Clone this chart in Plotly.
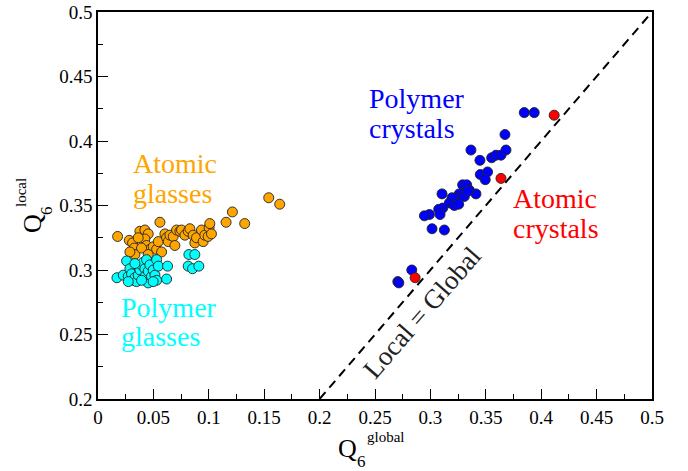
import plotly.graph_objects as go

# Atomic glasses (orange)
ag_x = [0.0177, 0.0282, 0.0312, 0.0327, 0.0333, 0.0378, 0.0423, 0.0453, 0.0423, 0.0438,
        0.0468, 0.0498, 0.0529, 0.0544, 0.0559, 0.0574, 0.0604, 0.0619, 0.0634, 0.0649,
        0.0679, 0.0694, 0.0709, 0.0739, 0.0754, 0.0784, 0.0814, 0.0829, 0.0859, 0.0874,
        0.0889, 0.0934, 0.0949, 0.0964, 0.0994, 0.1003, 0.1009, 0.1024, 0.1156, 0.1213,
        0.1324, 0.1541, 0.1640, 0.0393, 0.0363, 0.0453, 0.0288]
ag_y = [0.326, 0.323, 0.321, 0.317, 0.312, 0.330, 0.331, 0.328, 0.324, 0.319,
        0.316, 0.318, 0.316, 0.322, 0.337, 0.314, 0.328, 0.325, 0.322, 0.327,
        0.326, 0.319, 0.331, 0.330, 0.331, 0.327, 0.330, 0.332, 0.327, 0.321,
        0.325, 0.331, 0.322, 0.327, 0.326, 0.333, 0.336, 0.328, 0.337, 0.345,
        0.336, 0.356, 0.351, 0.317, 0.325, 0.312, 0.314]

# Polymer glasses (cyan)
pg_x = [0.0258, 0.0171, 0.0228, 0.0273, 0.0288, 0.0303, 0.0318, 0.0333, 0.0348, 0.0363,
        0.0378, 0.0393, 0.0408, 0.0423, 0.0423, 0.0438, 0.0453, 0.0453, 0.0468, 0.0483,
        0.0498, 0.0514, 0.0529, 0.0529, 0.0544, 0.0619, 0.0628, 0.0820, 0.0874, 0.0814,
        0.0853, 0.0910, 0.0333, 0.0393, 0.0273, 0.0498]
pg_y = [0.307, 0.294, 0.296, 0.295, 0.301, 0.297, 0.292, 0.294, 0.291, 0.296,
        0.300, 0.304, 0.306, 0.301, 0.295, 0.308, 0.290, 0.299, 0.304, 0.295,
        0.300, 0.296, 0.308, 0.292, 0.303, 0.293, 0.303, 0.312, 0.312, 0.303,
        0.301, 0.303, 0.305, 0.292, 0.291, 0.291]

# Polymer crystals (blue)
pc_x = [0.3847, 0.3937, 0.3673, 0.3366, 0.3447, 0.3553, 0.3592, 0.3637, 0.3682, 0.3450,
        0.3516, 0.3495, 0.3105, 0.3411, 0.3291, 0.3327, 0.3351, 0.3315, 0.3261, 0.3231,
        0.3195, 0.3171, 0.3216, 0.3255, 0.3306, 0.3336, 0.3111, 0.3075, 0.3087, 0.2991,
        0.2946, 0.3015, 0.3126, 0.2832, 0.2706, 0.2715]
pc_y = [0.422, 0.422, 0.405, 0.393, 0.385, 0.387, 0.389, 0.389, 0.393, 0.374,
        0.376, 0.370, 0.359, 0.359, 0.366, 0.366, 0.362, 0.360, 0.359, 0.356,
        0.356, 0.352, 0.350, 0.351, 0.357, 0.361, 0.348, 0.347, 0.343, 0.343,
        0.342, 0.332, 0.331, 0.300, 0.291, 0.290]

# Atomic crystals (red)
ac_x = [0.4117, 0.3637, 0.2862]
ac_y = [0.420, 0.371, 0.294]

# Reference line Local = Global
ref_line = [0.2, 0.5]

x_ticks = [0, 0.05, 0.1, 0.15, 0.2, 0.25, 0.3, 0.35, 0.4, 0.45, 0.5]
x_tick_labels = ["0", "0.05", "0.1", "0.15", "0.2", "0.25", "0.3", "0.35", "0.4", "0.45", "0.5"]
y_ticks = [0.2, 0.25, 0.3, 0.35, 0.4, 0.45, 0.5]
y_tick_labels = ["0.2", "0.25", "0.3", "0.35", "0.4", "0.45", "0.5"]

# Group labels (one entry per text line)
label_text = ["Atomic", "glasses", "Polymer", "glasses", "Polymer", "crystals", "Atomic", "crystals"]
label_x = [0.0298, 0.0298, 0.0190, 0.0190, 0.2428, 0.2428, 0.3727, 0.3727]
label_y = [0.3823, 0.3591, 0.2713, 0.2481, 0.4327, 0.4095, 0.3552, 0.3322]
label_color = ["#FFA500", "#FFA500", "#00FFFF", "#00FFFF", "#0000FF", "#0000FF", "#FF0000", "#FF0000"]

SERIF = "Liberation Serif"

fig = go.Figure()
fig.add_trace(go.Scatter(x=ref_line, y=ref_line, mode="lines",
                         line=dict(color="black", width=2, dash="9px,6px"),
                         hoverinfo="skip", showlegend=False))

def pts(x, y, color):
    return go.Scatter(x=x, y=y, mode="markers", showlegend=False,
                      marker=dict(size=10, color=color, line=dict(color="#222222", width=0.9)))

fig.add_trace(pts(ag_x, ag_y, "#FFA500"))
fig.add_trace(pts(pg_x, pg_y, "#00FFFF"))
fig.add_trace(pts(pc_x, pc_y, "#0000FF"))
fig.add_trace(pts(ac_x, ac_y, "#FF0000"))

for t, x, y, c in zip(label_text, label_x, label_y, label_color):
    fig.add_annotation(x=x, y=y, xref="x", yref="y", text=t,
                       showarrow=False, xanchor="left", yanchor="middle", align="left",
                       font=dict(family=SERIF, size=28, color=c))

fig.add_annotation(x=0.292, y=0.267, xref="x", yref="y", text="Local = Global",
                   showarrow=False, textangle=-49,
                   font=dict(family=SERIF, size=27, color="#222222"))

# Axis titles as annotations (paper px positions)
W, H = 688, 471
L, R, T, B = 98, 36, 12, 72
pw, ph = W - L - R, H - T - B

def px2paper(px, py):
    return (px - L) / pw, (H - B - py) / ph

for txt, (px, py), size, ang in [
    ("Q", (347, 448), 26, 0), ("6", (361, 461), 17, 0), ("global", (386, 437), 15, 0),
    ("Q", (32, 224), 26, -90), ("6", (46, 211), 17, -90), ("local", (21, 193), 15, -90),
]:
    xp, yp = px2paper(px, py)
    fig.add_annotation(x=xp, y=yp, xref="paper", yref="paper", text=txt, showarrow=False,
                       xanchor="center", yanchor="middle", textangle=ang,
                       font=dict(family=SERIF, size=size, color="black"))

axis_common = dict(showgrid=False, zeroline=False, showline=True, linecolor="black",
                   linewidth=1.5, mirror=True, ticks="inside", ticklen=10, tickwidth=1.2,
                   tickcolor="black", automargin=False,
                   tickfont=dict(family=SERIF, size=19, color="black"))

fig.update_xaxes(range=[0, 0.5], tickvals=x_ticks, ticktext=x_tick_labels,
                 minor=dict(ticks="inside", ticklen=5, tickcolor="black", dtick=0.025, tick0=0),
                 **axis_common)
fig.update_yaxes(range=[0.2, 0.5], tickvals=y_ticks, ticktext=y_tick_labels,
                 minor=dict(ticks="inside", ticklen=5, tickcolor="black", dtick=0.025, tick0=0.2),
                 **axis_common)

fig.update_layout(width=W, height=H, margin=dict(l=L, r=R, t=T, b=B),
                  plot_bgcolor="white", paper_bgcolor="white", showlegend=False)

fig.write_html("out.html", config={"displayModeBar": False},
               post_script="document.body.style.margin='0';")
